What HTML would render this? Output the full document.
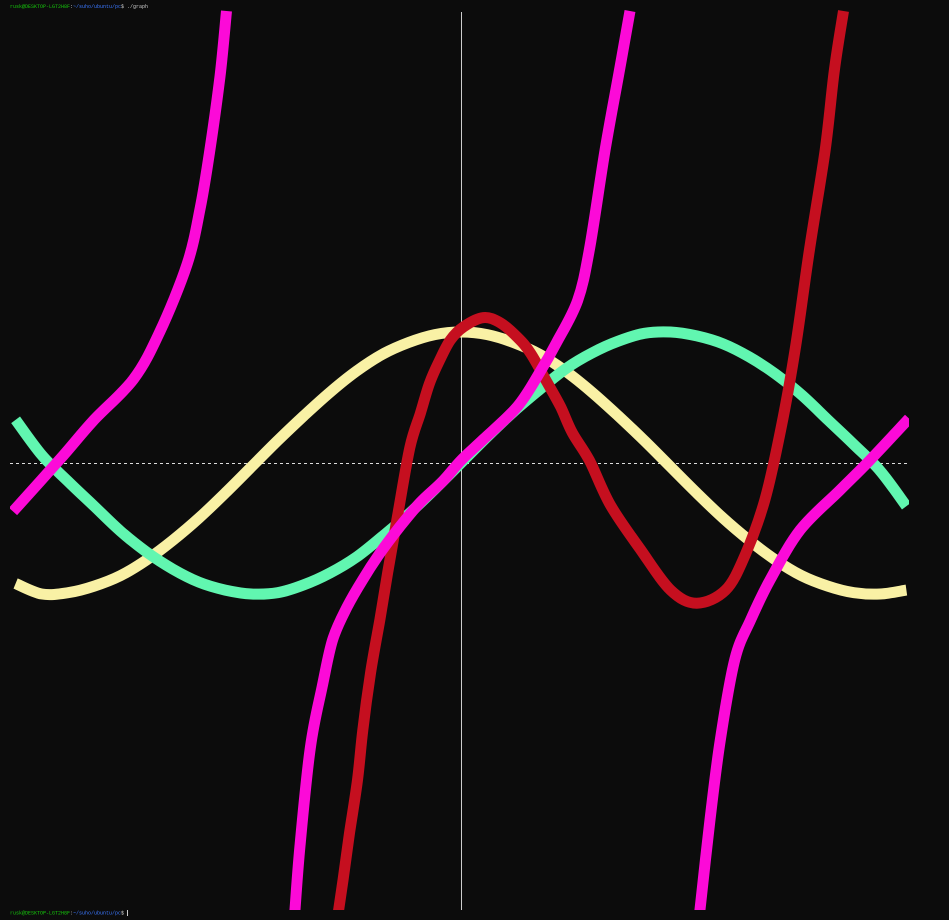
<!DOCTYPE html>
<html><head><meta charset="utf-8"><style>
html,body{margin:0;padding:0;background:#0c0c0c;width:949px;height:920px;overflow:hidden}
.t{position:absolute;left:10px;font:5px "Liberation Mono",monospace;color:#ccc;white-space:pre}
.g{color:#16c60c}.b{color:#3b78ff}
</style></head><body>
<div class="t" style="top:4px"><span class="g">rusk@DESKTOP-LGT2H8F</span>:<span class="b">~/suho/ubuntu/pc</span>$ ./graph</div>
<div class="t" style="top:910px"><span class="g">rusk@DESKTOP-LGT2H8F</span>:<span class="b">~/suho/ubuntu/pc</span>$ <span style="display:inline-block;width:1px;height:6px;background:#ccc;vertical-align:middle"></span></div>
<svg id="chart" width="949" height="920" style="position:absolute;left:0;top:0"></svg>
<script>
const trigX=[-3.4,-3.2,-3.0,-2.8,-2.6,-2.4,-2.2,-2.0,-1.8,-1.6,-1.4,-1.2,-1.0,-0.8,-0.6,-0.4,-0.2,0,0.2,0.4,0.6,0.8,1.0,1.2,1.4,1.6,1.8,2.0,2.2,2.4,2.6,2.8,3.0,3.2,3.4];
const yellowY=[-0.92,-1.0,-0.99,-0.94,-0.86,-0.74,-0.59,-0.42,-0.23,-0.03,0.17,0.36,0.54,0.70,0.83,0.92,0.98,1,0.98,0.92,0.83,0.70,0.54,0.36,0.17,-0.03,-0.23,-0.42,-0.59,-0.74,-0.86,-0.94,-0.99,-1.0,-0.97];
const greenY=[0.33,0.06,-0.14,-0.33,-0.52,-0.68,-0.81,-0.91,-0.97,-1.0,-0.99,-0.93,-0.84,-0.72,-0.56,-0.39,-0.20,0,0.20,0.39,0.56,0.72,0.84,0.93,0.99,1.0,0.97,0.91,0.81,0.68,0.52,0.33,0.14,-0.06,-0.33];
const magLeftX=[-3.42,-3.06,-2.81,-2.50,-2.30,-2.09,-1.99,-1.92,-1.84,-1.79];
const magLeftY=[-0.37,0.03,0.32,0.64,1.00,1.52,1.95,2.37,2.95,3.45];
const magMidX=[-1.27,-1.23,-1.15,-1.06,-0.98,-0.87,-0.75,-0.62,-0.47,-0.31,-0.14,0,0.17,0.43,0.60,0.73,0.89,0.98,1.10,1.21,1.29];
const magMidY=[-3.45,-2.93,-2.17,-1.71,-1.35,-1.10,-0.89,-0.69,-0.49,-0.30,-0.14,0.02,0.18,0.43,0.69,0.92,1.24,1.63,2.39,3.0,3.45];
const magRightX=[1.82,1.90,1.98,2.09,2.21,2.36,2.59,2.89,3.12,3.42];
const magRightY=[-3.45,-2.73,-2.11,-1.50,-1.20,-0.89,-0.51,-0.21,0.02,0.34];
const redX=[-0.94,-0.90,-0.85,-0.79,-0.75,-0.69,-0.62,-0.56,-0.48,-0.39,-0.31,-0.24,-0.16,-0.08,0.02,0.17,0.30,0.43,0.53,0.66,0.76,0.85,0.98,1.14,1.37,1.60,1.80,2.02,2.17,2.32,2.44,2.55,2.66,2.78,2.85,2.92];
const redY=[-3.45,-3.18,-2.82,-2.42,-2.04,-1.60,-1.20,-0.84,-0.38,0.12,0.38,0.61,0.79,0.94,1.04,1.11,1.07,0.96,0.84,0.61,0.43,0.23,0.02,-0.32,-0.66,-0.97,-1.07,-0.97,-0.70,-0.28,0.25,0.86,1.63,2.39,3.0,3.45];

const NS='http://www.w3.org/2000/svg';
const svg=document.getElementById('chart');
const X0=461,Y0=463,S=131,L=10,R=909,T=10,B=910;
const sx=v=>X0+v*S, sy=v=>Y0-v*S;
const clip=document.createElementNS(NS,'clipPath');clip.setAttribute('id','pc');
const cr=document.createElementNS(NS,'rect');cr.setAttribute('x',L);cr.setAttribute('y',T);cr.setAttribute('width',R-L);cr.setAttribute('height',B-T);
clip.appendChild(cr);svg.appendChild(clip);

const xa=document.createElementNS(NS,'line');


xa.setAttribute('x1',L);xa.setAttribute('x2',R);xa.setAttribute('y1',Y0+0.5);xa.setAttribute('y2',Y0+0.5);
xa.setAttribute('stroke','#ddd');xa.setAttribute('stroke-dasharray','3 3');xa.setAttribute('stroke-width','1');
svg.appendChild(xa);
const ya=document.createElementNS(NS,'line');


ya.setAttribute('x1',X0+0.5);ya.setAttribute('x2',X0+0.5);ya.setAttribute('y1',12);ya.setAttribute('y2',B);
ya.setAttribute('stroke','#ccc');ya.setAttribute('stroke-width','1');
svg.appendChild(ya);

function draw(xs,ys,color,name){
  const pts=xs.map((x,i)=>[sx(x),sy(ys[i])]);
  let d='M'+pts[0][0].toFixed(1)+','+pts[0][1].toFixed(1);
  for(let i=0;i<pts.length-1;i++){
    const p0=pts[Math.max(0,i-1)],p1=pts[i],p2=pts[i+1],p3=pts[Math.min(pts.length-1,i+2)];
    const c1=[p1[0]+(p2[0]-p0[0])/6,p1[1]+(p2[1]-p0[1])/6];
    const c2=[p2[0]-(p3[0]-p1[0])/6,p2[1]-(p3[1]-p1[1])/6];
    d+=' C'+c1.map(v=>v.toFixed(1)).join(',')+' '+c2.map(v=>v.toFixed(1)).join(',')+' '+p2.map(v=>v.toFixed(1)).join(',');
  }
  const p=document.createElementNS(NS,'path');
  
  
  p.setAttribute('d',d);
  p.setAttribute('fill','none');p.setAttribute('stroke',color);p.setAttribute('stroke-width','11');
  p.setAttribute('stroke-linejoin','round');p.setAttribute('clip-path','url(#pc)');
  svg.appendChild(p);
}
draw(trigX,yellowY,'#f9f1a5','yellow-curve');
draw(trigX,greenY,'#61f6b0','green-curve');
draw(redX,redY,'#c50f1f','red-curve');
draw(magLeftX,magLeftY,'#fc0ad8','magenta-curve-left');
draw(magMidX,magMidY,'#fc0ad8','magenta-curve-middle');
draw(magRightX,magRightY,'#fc0ad8','magenta-curve-right');
</script>
</body></html>
